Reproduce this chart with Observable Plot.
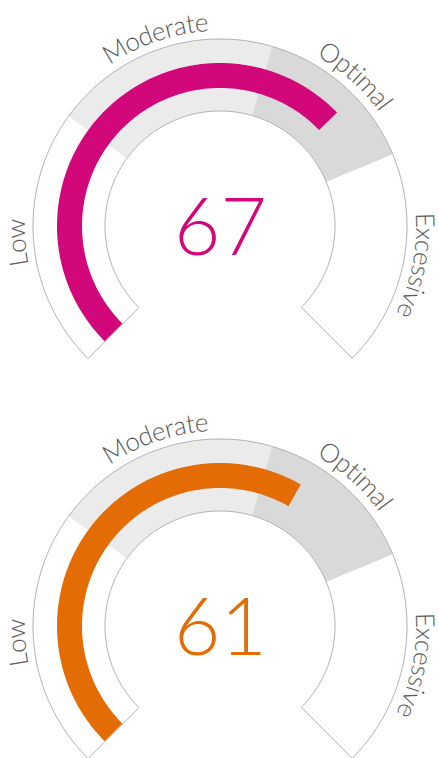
<!DOCTYPE html>
<html><head><meta charset="utf-8">
<script src="https://cdn.jsdelivr.net/npm/d3@7"></script>
<script src="https://cdn.jsdelivr.net/npm/@observablehq/plot@0.6"></script>
<style>body{margin:0;background:#fff} #chart{width:439px} svg{display:block}</style>
</head><body><div id="chart"></div>
<script>
const gaugeValues = [67, 61];
const gaugeColors = ["#d2077a", "#e36c05"];
const bandNames = ["Low", "Moderate", "Optimal", "Excessive"];
const bandStarts = [0, 30, 56, 75];
const bandEnds = [30, 56, 75, 100];
const bandFills = ["#ffffff", "#ebebeb", "#d9d9d9", "#ffffff"];

const W = 439, CX = 220, CY = 226;
const heights = [400, 358];
const R_OUT = 187, R_IN = 115, V_OUT = 163, V_IN = 138, R_LABEL = 204;
const LABEL_SIZE = 26, FONT = "Lato, 'Open Sans', sans-serif";
const angle = d3.scaleLinear().domain([0, 100]).range([-135 * Math.PI / 180, 135 * Math.PI / 180]);

function ring(v0, v1, r0, r1, extra) {
  const n = Math.max(2, Math.ceil(Math.abs(v1 - v0) * 3) + 1);
  return d3.range(n).map(i => {
    const a = angle(v0 + (v1 - v0) * i / (n - 1));
    return {x1: r0 * Math.sin(a), y1: r0 * Math.cos(a), x2: r1 * Math.sin(a), y2: r1 * Math.cos(a), ...extra};
  });
}

const ctx = document.createElement("canvas").getContext("2d");
ctx.font = `300 ${LABEL_SIZE}px Lato`;
function labelChars() {
  const out = [];
  bandNames.forEach((name, i) => {
    const mid = angle((bandStarts[i] + bandEnds[i]) / 2);
    const chars = [...name];
    const widths = chars.map(c => ctx.measureText(c).width);
    const total = d3.sum(widths);
    let s = -total / 2;
    chars.forEach((c, j) => {
      const a = mid + (s + widths[j] / 2) / R_LABEL;
      s += widths[j];
      out.push({c, x: R_LABEL * Math.sin(a), y: R_LABEL * Math.cos(a), rot: a * 180 / Math.PI});
    });
  });
  return out;
}

const bandData = bandNames.flatMap((name, i) => ring(bandStarts[i], bandEnds[i], R_IN, R_OUT, {band: name, fill: bandFills[i]}));
const outline = ring(0, 100, R_IN, R_OUT, {});
const chars = labelChars();

gaugeValues.forEach((value, gi) => {
  const H = heights[gi];
  const chart = Plot.plot({
    width: W, height: H, margin: 0,
    x: {domain: [-CX, W - CX], axis: null},
    y: {domain: [-(H - CY), CY], axis: null},
    color: {type: "identity"},
    marks: [
      Plot.area(bandData, {x1: "x1", y1: "y1", x2: "x2", y2: "y2", z: "band", fill: "fill"}),
      Plot.area(outline, {x1: "x1", y1: "y1", x2: "x2", y2: "y2", fill: "none", stroke: "#b0b0b0", strokeWidth: 1}),
      Plot.area(ring(0, value, V_IN, V_OUT, {}), {x1: "x1", y1: "y1", x2: "x2", y2: "y2", fill: gaugeColors[gi]}),
      Plot.text(chars, {x: "x", y: "y", text: "c", rotate: "rot", fontSize: LABEL_SIZE, fontWeight: 300, fontFamily: FONT, fill: "#5c5c5c"}),
      Plot.text([value], {x: () => 0, y: () => 0, text: d => String(d), dy: 3, fontSize: 80, fontWeight: 300, fontFamily: FONT, fill: gaugeColors[gi]})
    ]
  });
  document.getElementById("chart").appendChild(chart);
});
</script>
</body></html>
